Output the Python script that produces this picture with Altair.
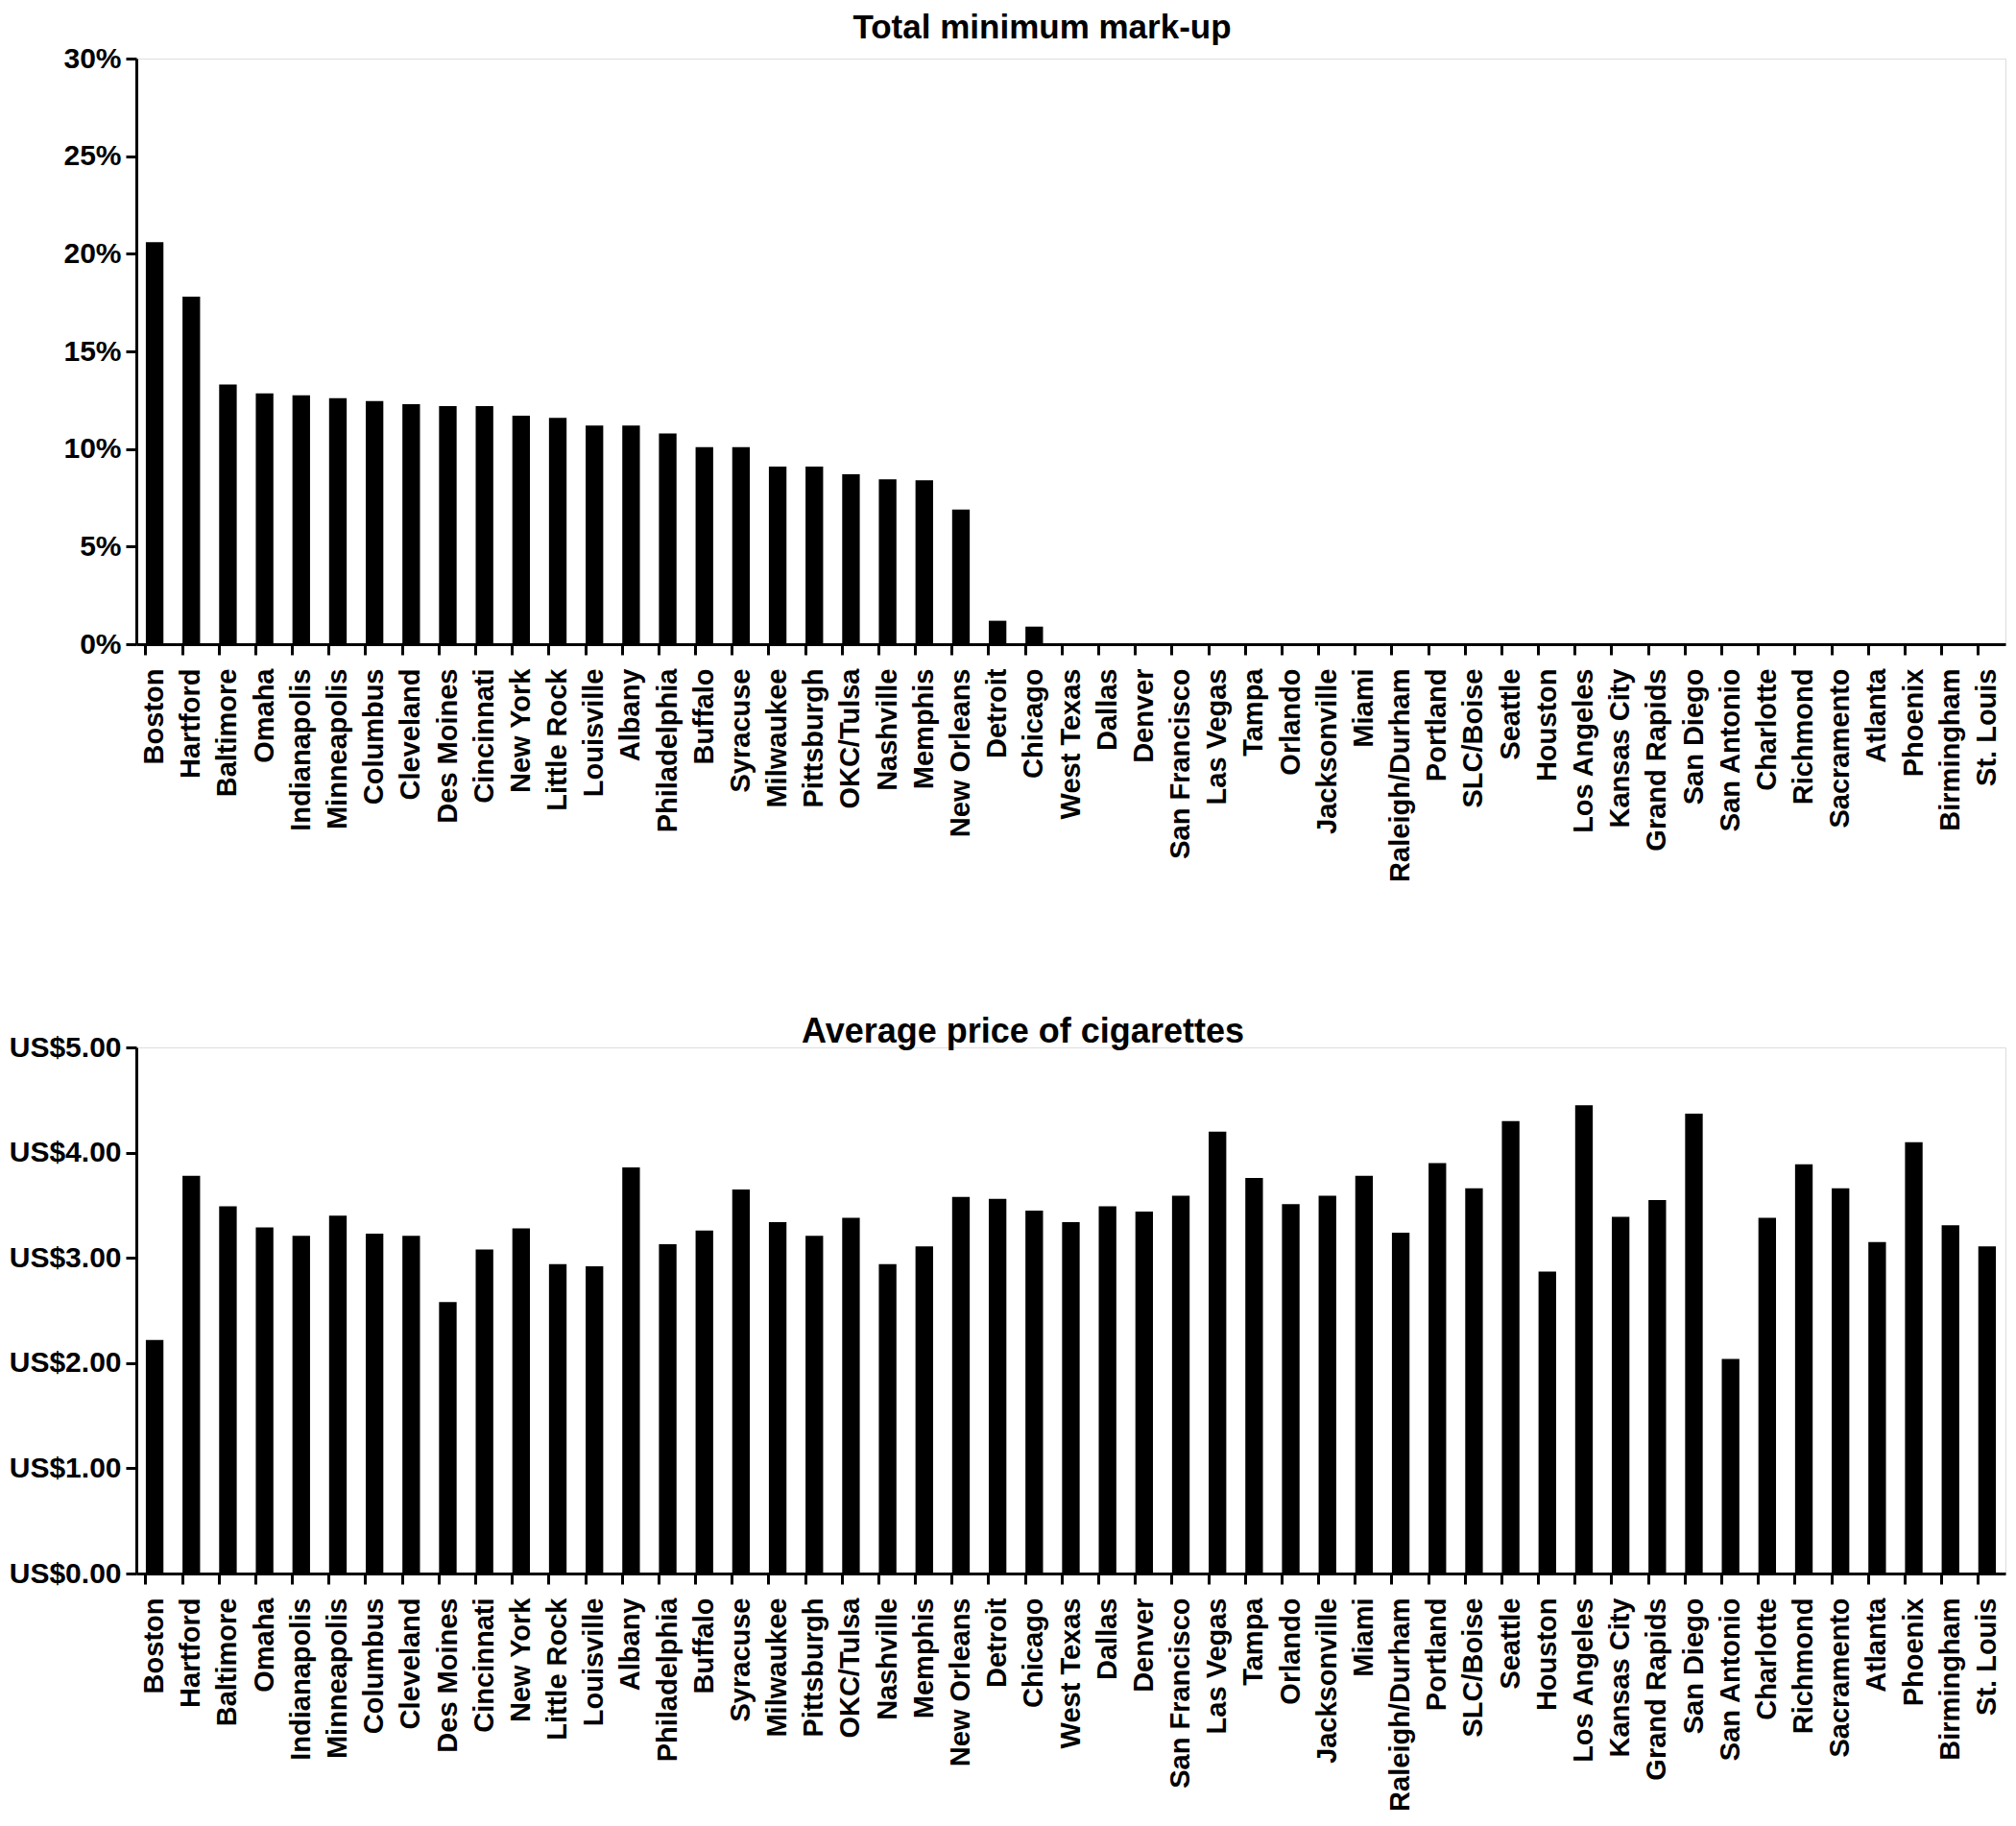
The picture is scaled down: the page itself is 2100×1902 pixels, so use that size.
import altair as alt
import pandas as pd

cities = ["Boston", "Hartford", "Baltimore", "Omaha", "Indianapolis", "Minneapolis",
          "Columbus", "Cleveland", "Des Moines", "Cincinnati", "New York", "Little Rock",
          "Louisville", "Albany", "Philadelphia", "Buffalo", "Syracuse", "Milwaukee",
          "Pittsburgh", "OKC/Tulsa", "Nashville", "Memphis", "New Orleans", "Detroit",
          "Chicago", "West Texas", "Dallas", "Denver", "San Francisco", "Las Vegas",
          "Tampa", "Orlando", "Jacksonville", "Miami", "Raleigh/Durham", "Portland",
          "SLC/Boise", "Seattle", "Houston", "Los Angeles", "Kansas City", "Grand Rapids",
          "San Diego", "San Antonio", "Charlotte", "Richmond", "Sacramento", "Atlanta",
          "Phoenix", "Birmingham", "St. Louis"]

# Total minimum mark-up (%)
markup = [20.6, 17.8, 13.3, 12.85, 12.75, 12.6, 12.45, 12.3, 12.2, 12.2, 11.7, 11.6,
          11.2, 11.2, 10.8, 10.1, 10.1, 9.1, 9.1, 8.7, 8.45, 8.4, 6.9, 1.2, 0.9,
          0, 0, 0, 0, 0, 0, 0, 0, 0, 0, 0, 0, 0, 0, 0, 0, 0, 0, 0, 0, 0, 0, 0, 0, 0, 0]

# Average price of cigarettes (US$)
price = [2.22, 3.78, 3.49, 3.29, 3.21, 3.40, 3.23, 3.21, 2.58, 3.08, 3.28, 2.94,
         2.92, 3.86, 3.13, 3.26, 3.65, 3.34, 3.21, 3.38, 2.94, 3.11, 3.58, 3.56,
         3.45, 3.34, 3.49, 3.44, 3.59, 4.20, 3.76, 3.51, 3.59, 3.78, 3.24, 3.90,
         3.66, 4.30, 2.87, 4.45, 3.39, 3.55, 4.37, 2.04, 3.38, 3.89, 3.66, 3.15,
         4.10, 3.31, 3.11]

markup_ticks = [0, 5, 10, 15, 20, 25, 30]
price_ticks = [0, 1, 2, 3, 4, 5]

df = pd.DataFrame({"city": cities, "markup": markup, "price": price})

FONT = "Liberation Sans"
W = 1947


def x_enc():
    return alt.X(
        "city:N",
        sort=cities,
        scale=alt.Scale(paddingInner=0.52, paddingOuter=0.26),
        axis=alt.Axis(
            title=None, labelAngle=270, labelAlign="right", labelBaseline="middle",
            bandPosition=0, labelFont=FONT, labelFontSize=29,
            labelFontWeight="bold", labelColor="black", labelPadding=14,
            labelLimit=500, tickSize=11, tickWidth=3, tickColor="black",
            domainColor="black", domainWidth=3, labelOverlap=False, labelBound=False,
        ),
    )


def y_axis(values, expr):
    return alt.Axis(
        title=None, values=values, labelExpr=expr, labelFont=FONT, labelFontSize=30,
        labelFontWeight="bold", labelColor="black", labelPadding=5, tickSize=11,
        tickWidth=3, tickColor="black", domainColor="black", domainWidth=3,
        grid=False, labelFlush=False,
    )


top = alt.Chart(df).mark_bar(color="black").encode(
    x=x_enc(),
    y=alt.Y("markup:Q", scale=alt.Scale(domain=[0, 30], nice=False),
            axis=y_axis(markup_ticks, "datum.value + '%'")),
).properties(
    width=W, height=610,
    title=alt.TitleParams("Total minimum  mark-up", font=FONT, fontSize=35,
                          fontWeight="bold", color="black", dx=-30, offset=-29,
                          frame="group", baseline="alphabetic"),
)

bottom = alt.Chart(df).mark_bar(color="black").encode(
    x=x_enc(),
    y=alt.Y("price:Q", scale=alt.Scale(domain=[0, 5], nice=False),
            axis=y_axis(price_ticks, "'US$' + format(datum.value, '.2f')")),
).properties(
    width=W, height=548,
    title=alt.TitleParams("Average price of cigarettes", font=FONT, fontSize=36,
                          fontWeight="bold", color="black", dx=-50, offset=-46,
                          frame="group", baseline="alphabetic"),
)

chart = alt.vconcat(top, bottom, spacing=137).properties(
    padding={"left": 0, "top": 3, "right": 0, "bottom": 0}
).configure_view(stroke=None).configure(background="white")

chart.save("out.html", embed_options={"renderer": "svg", "actions": False})
